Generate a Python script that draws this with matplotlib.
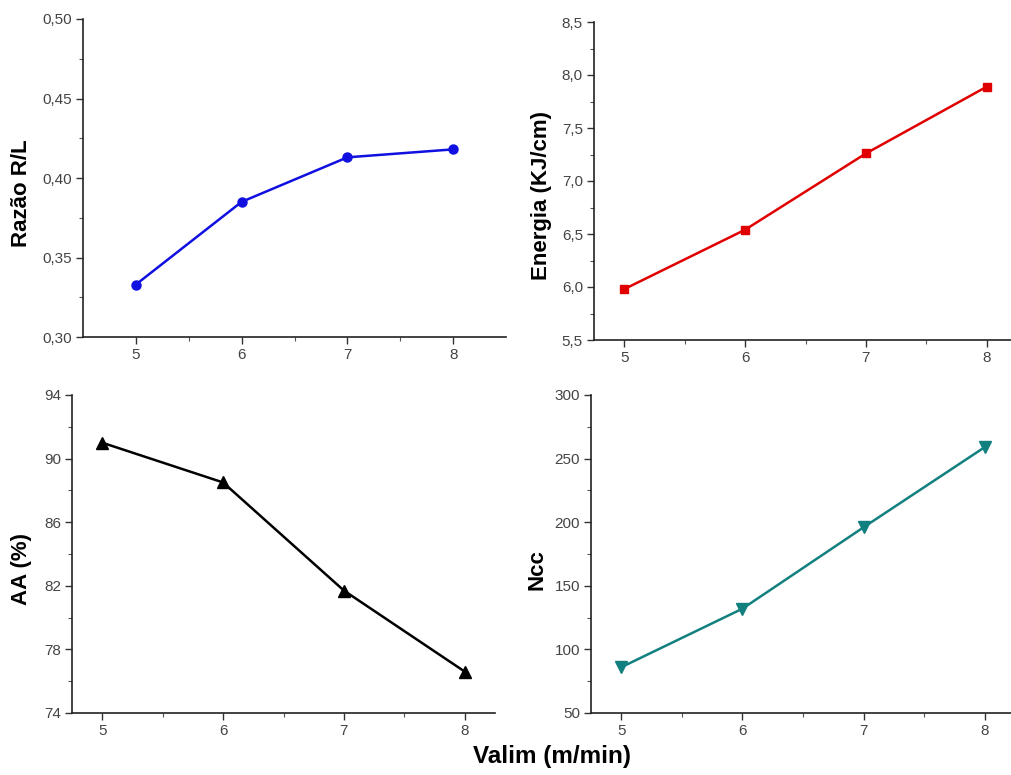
import matplotlib
matplotlib.use("Agg")
import matplotlib.pyplot as plt
from matplotlib.ticker import FuncFormatter

valim = [5, 6, 7, 8]
razao = [0.333, 0.385, 0.413, 0.418]
energia = [5.98, 6.54, 7.26, 7.89]
aa = [91.0, 88.5, 81.7, 76.6]
ncc = [86, 132, 196, 259]

W, H = 1011, 775
fig = plt.figure(figsize=(W / 100, H / 100), dpi=100)
plt.rcParams['font.family'] = ['Liberation Sans', 'DejaVu Sans']

def box(l, r, t, b):
    return [l / W, 1 - b / H, (r - l) / W, (b - t) / H]

def comma_fmt(dec):
    return FuncFormatter(lambda v, p: (f"{v:.{dec}f}").replace('.', ','))

panels = [
    dict(rect=box(83, 506, 19, 337), y=razao, color='#1010e0', marker='o', ms=6.5,
         ylim=(0.30, 0.50), major=0.05, dec=2, xlim=(4.5, 8.5),
         label='Razão R/L', lx=22, ly=193),
    dict(rect=box(594, 1017, 22, 340), y=energia, color='#e00000', marker='s', ms=6,
         ylim=(5.5, 8.5), major=0.5, dec=1, xlim=(4.75, 8.25),
         label='Energia (KJ/cm)', lx=542, ly=196),
    dict(rect=box(72, 495, 395, 713), y=aa, color='black', marker='^', ms=8,
         ylim=(74, 94), major=4, dec=0, xlim=(4.75, 8.25),
         label='AA (%)', lx=22, ly=569),
    dict(rect=box(591, 1015, 395, 713), y=ncc, color='#138080', marker='v', ms=8,
         ylim=(50, 300), major=50, dec=0, xlim=(4.75, 8.25),
         label='Ncc', lx=537, ly=570),
]

for p in panels:
    ax = fig.add_axes(p['rect'])
    ax.plot(valim, p['y'], color=p['color'], marker=p['marker'], ms=p['ms'],
            lw=1.8, clip_on=False)
    ax.set_xlim(*p['xlim'])
    ax.set_ylim(*p['ylim'])
    ax.set_xticks(valim)
    ax.set_xticks([5.5, 6.5, 7.5], minor=True)
    lo, hi = p['ylim']
    m = p['major']
    n = int(round((hi - lo) / m))
    ax.set_yticks([lo + i * m for i in range(n + 1)])
    ax.set_yticks([lo + (i + 0.5) * m for i in range(n)], minor=True)
    ax.yaxis.set_major_formatter(comma_fmt(p['dec']))
    for s in ['top', 'right']:
        ax.spines[s].set_visible(False)
    for s in ['left', 'bottom']:
        ax.spines[s].set_linewidth(1.2)
        ax.spines[s].set_color('#222222')
    ax.tick_params(which='major', direction='out', length=5, width=1.0,
                   labelsize=11, labelcolor='#444444', color='#333333', pad=3)
    ax.tick_params(which='minor', direction='out', length=3, width=0.8, color='#555555')
    fig.text(p['lx'] / W, 1 - p['ly'] / H, p['label'], rotation=90,
             ha='center', va='center', fontsize=16, fontweight='bold')

fig.text(552 / W, 1 - 757 / H, 'Valim (m/min)', ha='center', va='center',
         fontsize=17.5, fontweight='bold')

fig.savefig('out.png', dpi=100)
